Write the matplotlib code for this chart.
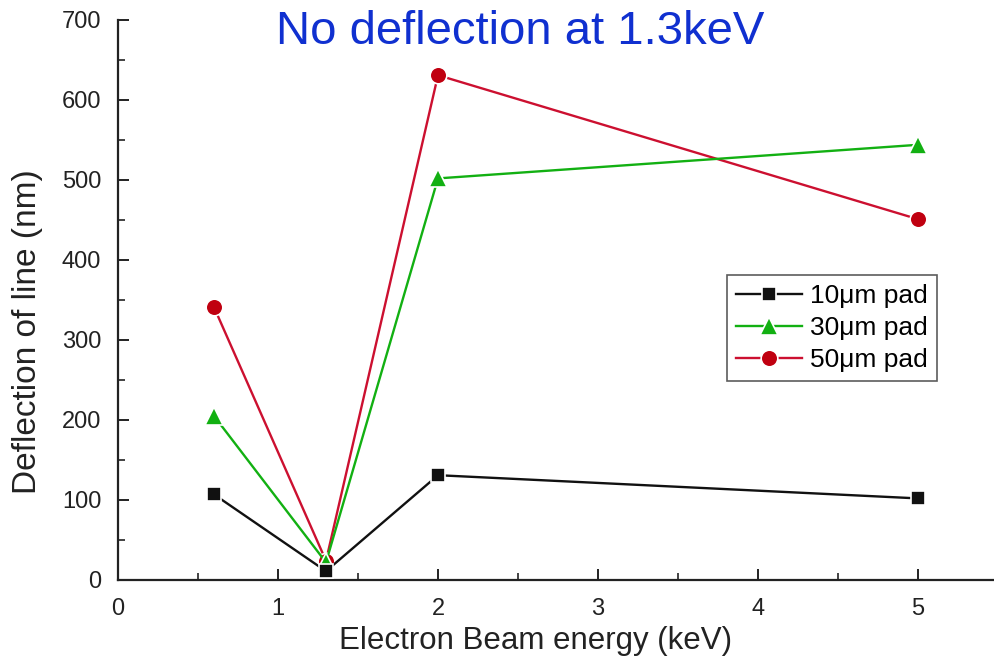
import matplotlib
matplotlib.use("Agg")
import matplotlib.pyplot as plt
from matplotlib.ticker import MultipleLocator

plt.rcParams['font.family'] = ['Liberation Sans', 'DejaVu Sans']

# beam energy (keV) and measured deflection (nm)
energy = [0.6, 1.3, 2.0, 5.0]
pad_10um = [107, 11, 131, 102]
pad_30um = [205, 22, 502, 544]
pad_50um = [341, 24, 631, 451]

series_labels = ["10\u03bcm pad", "30\u03bcm pad", "50\u03bcm pad"]
title_text = "No deflection at 1.3keV"

fig = plt.figure(figsize=(9.94, 6.66), dpi=100)
ax = fig.add_axes([118 / 994, 86 / 666, 876 / 994, 560 / 666])

#one line per pad size, with a small white rim round the markers
ax.plot(energy, pad_10um, "-s", color="#111111", lw=1.7, ms=10.5,
        mec="white", mew=1.2, label=series_labels[0], zorder=5)
ax.plot(energy, pad_30um, "-^", color="#12b012", lw=1.7, ms=13,
        mec="white", mew=1.2, label=series_labels[1], zorder=4)
ax.plot(energy, pad_50um, "-o", color="#cc1030", mfc="#c00010", lw=1.7, ms=12,
        mec="white", mew=1.2, label=series_labels[2], zorder=3)

ax.set_xlim(0, 876 / 160)
ax.set_ylim(0, 700)
ax.xaxis.set_major_locator(MultipleLocator(1))
ax.xaxis.set_minor_locator(MultipleLocator(0.5))
ax.yaxis.set_major_locator(MultipleLocator(100))
ax.yaxis.set_minor_locator(MultipleLocator(50))

for side in ("top", "right"):
    ax.spines[side].set_visible(False)
for side in ("left", "bottom"):
    ax.spines[side].set_linewidth(1.6)
    ax.spines[side].set_color("#222222")

ax.tick_params(which="major", direction="in", length=8, width=1.4,
               labelsize=17, colors="#222222")
ax.tick_params(axis="x", which="major", pad=13)
ax.tick_params(axis="y", which="major", pad=12)
ax.tick_params(which="minor", direction="in", length=5, width=1.2,
               colors="#222222")

ax.set_xlabel("Electron Beam energy (keV)", fontsize=22.5, color="#222222")
ax.set_ylabel("Deflection of line (nm)", fontsize=24, color="#222222")
# labels sit a little off the axes centre in the original
ax.xaxis.set_label_coords((536 - 118) / 876, -(641 - 580) / 560, transform=ax.transAxes)
ax.yaxis.set_label_coords(-(118 - 28) / 876, (580 - 332) / 560, transform=ax.transAxes)
ax.xaxis.label.set_va("center")
ax.yaxis.label.set_va("center")

leg = ax.legend(loc="upper left", bbox_to_anchor=(727 / 994, 1 - 275 / 666),
                bbox_transform=fig.transFigure, fontsize=19, frameon=True,
                fancybox=False, edgecolor="#333333", handlelength=2.5,
                handletextpad=0.3, borderpad=0.35, labelspacing=0.3,
                borderaxespad=0)
leg.get_frame().set_linewidth(1.2)

fig.text(520 / 994, 1 - 32 / 666, title_text, fontsize=34, color="#1030d0",
         ha="center", va="center")

fig.savefig("out.png", dpi=100)
